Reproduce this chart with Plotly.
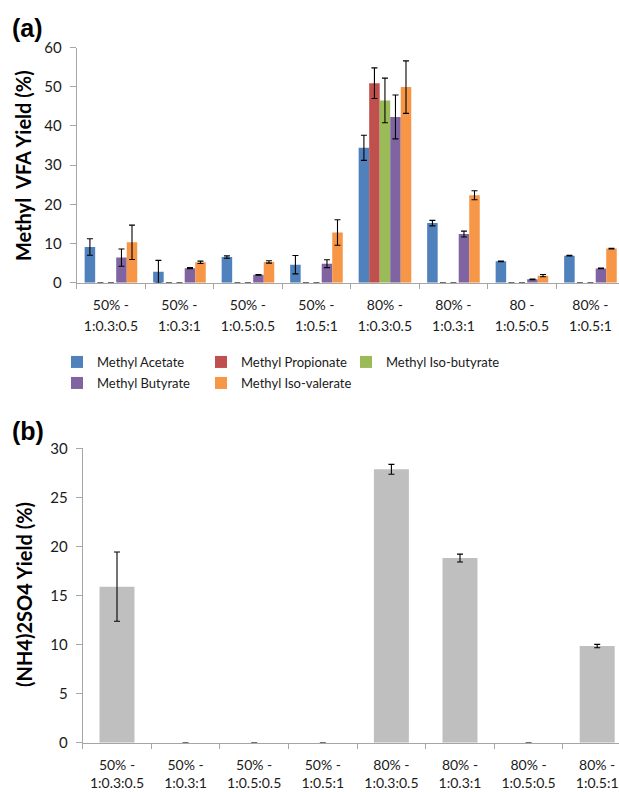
import plotly.graph_objects as go

W, H = 619, 792

# ---------------- data ----------------
cats_a = ["50% - 1:0.3:0.5", "50% - 1:0.3:1", "50% - 1:0.5:0.5", "50% - 1:0.5:1",
          "80% - 1:0.3:0.5", "80% - 1:0.3:1", "80 - 1:0.5:0.5", "80% - 1:0.5:1"]
ticks_a_line1 = ["50% -", "50% -", "50% -", "50% -", "80% -", "80% -", "80 -", "80% -"]
ticks_a_line2 = ["1:0.3:0.5", "1:0.3:1", "1:0.5:0.5", "1:0.5:1",
                 "1:0.3:0.5", "1:0.3:1", "1:0.5:0.5", "1:0.5:1"]

cats_b = ["50% - 1:0.3:0.5", "50% - 1:0.3:1", "50% - 1:0.5:0.5", "50% - 1:0.5:1",
          "80% - 1:0.3:0.5", "80% - 1:0.3:1", "80% - 1:0.5:0.5", "80% - 1:0.5:1"]
ticks_b_line1 = ["50% -", "50% -", "50% -", "50% -", "80% -", "80% -", "80% -", "80% -"]
ticks_b_line2 = ["1:0.3:0.5", "1:0.3:1", "1:0.5:0.5", "1:0.5:1",
                 "1:0.3:0.5", "1:0.3:1", "1:0.5:0.5", "1:0.5:1"]

series_names = ["Methyl Acetate", "Methyl Propionate", "Methyl Iso-butyrate",
                "Methyl Butyrate", "Methyl Iso-valerate"]
acetate      = [9.1, 2.8, 6.55, 4.6, 34.4, 15.2, 5.45, 6.9]
acetate_err  = [2.1, 2.9, 0.3, 2.35, 3.2, 0.7, 0.1, 0.1]
propionate     = [0, 0, 0, 0, 50.9, 0, 0, 0]
propionate_err = [0, 0, 0, 0, 3.9, 0, 0, 0]
isobutyrate     = [0, 0, 0, 0, 46.5, 0, 0, 0]
isobutyrate_err = [0, 0, 0, 0, 5.7, 0, 0, 0]
butyrate     = [6.4, 3.7, 2.0, 4.85, 42.3, 12.4, 0.85, 3.65]
butyrate_err = [2.2, 0.15, 0.1, 1.0, 5.6, 0.75, 0.1, 0.1]
isovalerate     = [10.3, 5.2, 5.3, 12.8, 49.9, 22.3, 1.8, 8.7]
isovalerate_err = [4.4, 0.3, 0.3, 3.25, 6.7, 1.15, 0.3, 0.1]

nh4_yield = [15.9, 0, 0, 0, 27.86, 18.82, 0, 9.85]
nh4_err   = [3.53, 0, 0, 0, 0.5, 0.4, 0, 0.17]

colors = ["#4f81bd", "#c0504d", "#9bbb59", "#8064a2", "#f79646"]
legend_ids = ["legend", "legend2", "legend3", "legend4", "legend5"]
bar_b_color = "#bfbfbf"

# ---------------- helpers (pixel -> paper) ----------------
def px(x):
    return x / W

def py(y):
    return 1 - y / H

FONT = "Lato, Calibri, 'Noto Sans', sans-serif"
TXT = "#1a1a1a"
AX = "#a6a6a6"

fig = go.Figure()

vals = [acetate, propionate, isobutyrate, butyrate, isovalerate]
errs = [acetate_err, propionate_err, isobutyrate_err, butyrate_err, isovalerate_err]
for name, v, e, c, lg in zip(series_names, vals, errs, colors, legend_ids):
    fig.add_trace(go.Bar(
        x=cats_a, y=v, name=name, legend=lg, marker=dict(color=c, line=dict(width=0)),
        error_y=dict(type="data", array=e, visible=True, color="#000000", thickness=1.1, width=3),
        xaxis="x", yaxis="y",
    ))

fig.add_trace(go.Bar(
    x=cats_b, y=nh4_yield, name="(NH4)2SO4", showlegend=False, width=0.51,
    marker=dict(color=bar_b_color, line=dict(width=0)),
    error_y=dict(type="data", array=nh4_err, visible=True, color="#000000", thickness=1.1, width=3),
    xaxis="x2", yaxis="y2",
))

# empty helper traces so the second-line label axes exist
fig.add_trace(go.Scatter(x=[], y=[], xaxis="x3", yaxis="y", showlegend=False, hoverinfo="skip"))
fig.add_trace(go.Scatter(x=[], y=[], xaxis="x4", yaxis="y2", showlegend=False, hoverinfo="skip"))

# plot-area pixel geometry
a_left, a_right, a_top, a_bot = 76.7, 619, 47.5, 282.7
b_left, b_right, b_top, b_bot = 82.7, 619, 448.3, 742.7
cat_w_a = 68.5
cat_w_b = 68.6
rng_a = [-0.5, -0.5 + (a_right - a_left) / cat_w_a]
rng_b = [-0.5, -0.5 + (b_right - b_left) / cat_w_b]

tickf = dict(family=FONT, size=14, color=TXT)
common_x = dict(type="category", showgrid=False, showline=True, linecolor=AX, linewidth=1,
                ticks="outside", tickson="boundaries", ticklen=5, tickcolor=AX,
                ticklabelstandoff=9, tickangle=0, automargin=False,
                tickfont=tickf, zeroline=False)
line2_x = dict(type="linear", showgrid=False, showline=False, ticks="", zeroline=False,
               tickmode="array", tickvals=list(range(8)), tickangle=0, automargin=False,
               tickfont=tickf)
common_y = dict(showgrid=False, showline=True, linecolor=AX, linewidth=1, ticks="outside",
                ticklen=6, tickcolor=AX, ticklabelstandoff=5, automargin=False,
                tickfont=dict(family=FONT, size=15, color=TXT), zeroline=False)

legend_common = dict(orientation="h", xanchor="left", yanchor="middle",
                     font=dict(family=FONT, size=13, color=TXT),
                     bgcolor="rgba(0,0,0,0)", borderwidth=0)
# legend item positions (text start x, row centre y) in pixels
leg_pos = [(57, 362), (201, 362), (346, 362), (57, 383), (201, 383)]

layout_legends = {lid: dict(legend_common, x=px(lx), y=py(ly))
                  for lid, (lx, ly) in zip(legend_ids, leg_pos)}

fig.update_layout(
    width=W, height=H, margin=dict(l=0, r=0, t=0, b=0, autoexpand=False),
    paper_bgcolor="white", plot_bgcolor="white",
    barmode="group", bargap=0.232, bargroupgap=0,
    xaxis=dict(common_x, domain=[px(a_left), px(a_right)], range=rng_a, anchor="y",
               tickmode="array", tickvals=cats_a, ticktext=ticks_a_line1),
    yaxis=dict(common_y, domain=[py(a_bot), py(a_top)], range=[0, 60], dtick=10, anchor="x"),
    xaxis3=dict(line2_x, overlaying="x", anchor="y", range=rng_a, ticktext=ticks_a_line2,
                ticklabelstandoff=33),
    xaxis2=dict(common_x, domain=[px(b_left), px(b_right)], range=rng_b, anchor="y2",
                tickmode="array", tickvals=cats_b, ticktext=ticks_b_line1),
    yaxis2=dict(common_y, domain=[py(b_bot), py(b_top)], range=[0, 30], dtick=5, anchor="x2"),
    xaxis4=dict(line2_x, overlaying="x2", anchor="y2", range=rng_b, ticktext=ticks_b_line2,
                ticklabelstandoff=30),
    showlegend=True,
    **layout_legends,
)

fig.add_annotation(text="<b>(a)</b>", x=px(10), y=py(28), xref="paper", yref="paper",
                   xanchor="left", yanchor="middle", showarrow=False,
                   font=dict(family="Liberation Sans, Arial, sans-serif", size=25, color="#000"))
fig.add_annotation(text="<b>(b)</b>", x=px(10), y=py(431), xref="paper", yref="paper",
                   xanchor="left", yanchor="middle", showarrow=False,
                   font=dict(family="Liberation Sans, Arial, sans-serif", size=25, color="#000"))
fig.add_annotation(text="<b>Methyl&nbsp; VFA Yield (%)</b>", x=px(23), y=py(166), xref="paper",
                   yref="paper", xanchor="center", yanchor="middle", textangle=-90,
                   showarrow=False, font=dict(family=FONT, size=20, color="#000"))
fig.add_annotation(text="<b>(NH4)2SO4 Yield (%)</b>", x=px(24), y=py(595), xref="paper",
                   yref="paper", xanchor="center", yanchor="middle", textangle=-90,
                   showarrow=False, font=dict(family=FONT, size=20, color="#000"))

post = ("document.documentElement.style.margin='0';document.body.style.margin='0';"
        "document.body.style.overflow='hidden';")

fig.write_html("out.html", config={"displayModeBar": False, "staticPlot": True},
               post_script=post)
